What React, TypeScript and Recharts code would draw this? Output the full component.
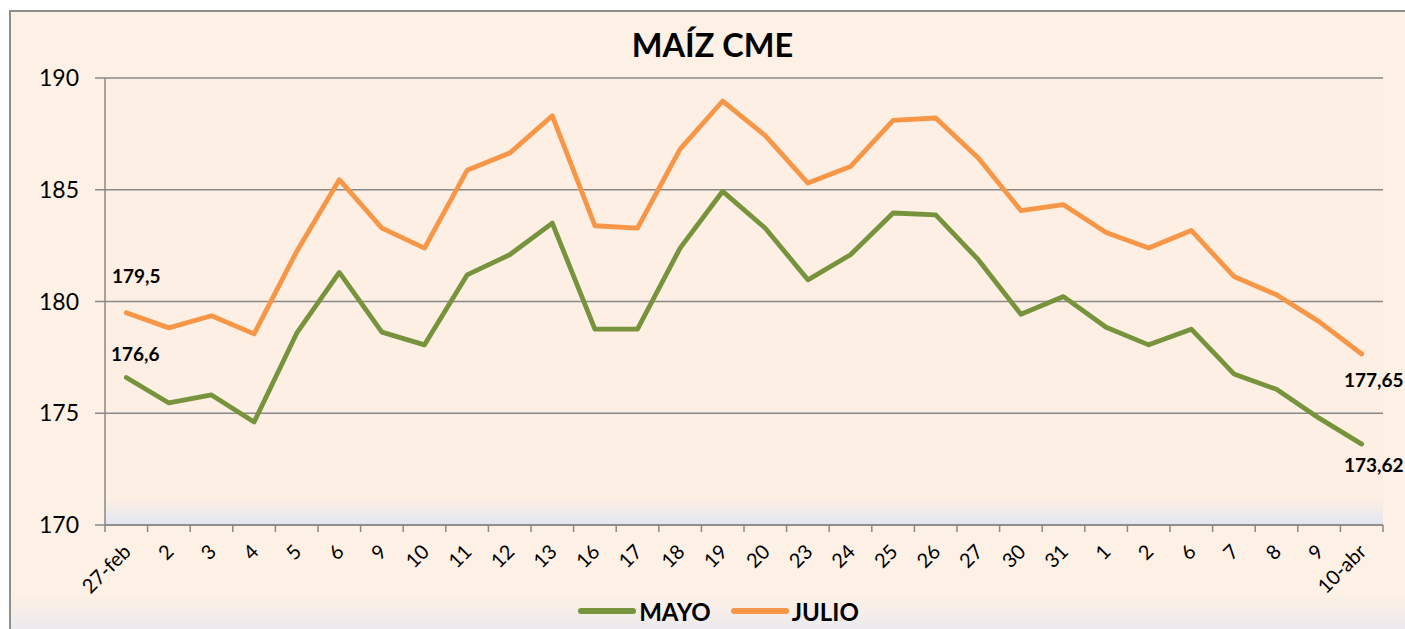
import React from 'react';
import { LineChart, Line, XAxis, YAxis, CartesianGrid, Legend, LabelList } from 'recharts';

const labels = ['27-feb','2','3','4','5','6','9','10','11','12','13','16','17','18','19','20','23','24','25','26','27','30','31','1','2','6','7','8','9','10-abr'];
const mayo = [176.6,175.46,175.82,174.61,178.58,181.30,178.63,178.06,181.19,182.09,183.51,178.76,178.76,182.39,184.93,183.28,180.97,182.09,183.96,183.88,181.87,179.43,180.22,178.85,178.06,178.76,176.76,176.07,174.78,173.62];
const julio = [179.5,178.82,179.36,178.55,182.24,185.45,183.28,182.39,185.87,186.64,188.31,183.39,183.28,186.82,188.97,187.42,185.30,186.04,188.10,188.21,186.42,184.07,184.33,183.09,182.39,183.18,181.12,180.30,179.10,177.65];
const yTicks = [170, 175, 180, 185, 190];
const seriesNames = ['MAYO', 'JULIO'];
const title = 'MAÍZ CME';

const data = labels.map((l, i) => ({ label: l, MAYO: mayo[i], JULIO: julio[i] }));

const W = 1405;
const H = 629;
const M = { top: 78, right: 22, left: 0, bottom: 3 };
const Y_W = 105;
const plotW = W - M.left - M.right - Y_W;
const halfBand = plotW / labels.length / 2;

const GREEN = '#77933C';
const ORANGE = '#F79646';
const GRID = '#898989';
const FONT = 'Lato, "Liberation Sans", sans-serif';

const fmt = (v: number) => String(v).replace('.', ',');

const XTick = (props: any) => {
  const { x, y, payload, index } = props;
  const last = index === labels.length - 1;
  const tx = x + 1;
  const ty = y + 23;
  return (
    <g>
      <line x1={x - halfBand} x2={x - halfBand} y1={y} y2={y + 7} stroke={GRID} strokeWidth={1.5} />
      {last && <line x1={x + halfBand} x2={x + halfBand} y1={y} y2={y + 7} stroke={GRID} strokeWidth={1.5} />}
      <text
        x={tx}
        y={ty}
        transform={`rotate(-45, ${tx}, ${ty})`}
        textAnchor="end"
        dy="0.35em"
        fontSize={20}
        fontFamily={FONT}
        fill="#000"
      >
        {payload.value}
      </text>
    </g>
  );
};

const makeLabel = (first: [number, number], last: [number, number]) => (props: any) => {
  const { x, y, value, index } = props;
  let off: [number, number] | null = null;
  if (index === 0) off = first;
  else if (index === labels.length - 1) off = last;
  if (!off) return null;
  return (
    <text
      x={x + off[0]}
      y={y + off[1]}
      dy="0.35em"
      textAnchor="middle"
      fontSize={19}
      fontWeight={700}
      fontFamily={FONT}
      fill="#000"
    >
      {fmt(value)}
    </text>
  );
};

const LegendContent = () => (
  <div style={{ height: 30, display: 'flex', alignItems: 'center', justifyContent: 'center', paddingLeft: 54, fontFamily: FONT }}>
    {seriesNames.map((n, i) => (
      <div key={n} style={{ display: 'flex', alignItems: 'center', marginLeft: i === 0 ? 0 : 20 }}>
        <svg width={58} height={10} style={{ display: 'block' }}>
          <line x1={3} x2={55} y1={5} y2={5} stroke={i === 0 ? GREEN : ORANGE} strokeWidth={6} strokeLinecap="round" />
        </svg>
        <span style={{ fontSize: 24, fontWeight: 700, color: '#000', marginLeft: 3 }}>{n}</span>
      </div>
    ))}
  </div>
);

export default function App() {
  return (
    <div style={{ position: 'absolute', left: 0, top: 0, width: W, height: H, overflow: 'hidden', background: '#fff' }}>
      <div
        style={{
          position: 'absolute',
          left: 9,
          top: 10,
          width: W,
          height: H,
          borderLeft: '2px solid #8E8E8E',
          borderTop: '2px solid #8E8E8E',
          background: 'linear-gradient(to bottom, #FDF0E4 0%, #FDF0E4 93%, #E7E9F1 100%)',
          boxSizing: 'border-box',
        }}
      />
      <div
        style={{
          position: 'absolute',
          left: 0,
          width: W,
          top: 27,
          textAlign: 'center',
          paddingLeft: 20,
          boxSizing: 'border-box',
          fontFamily: FONT,
          fontWeight: 700,
          fontSize: 32.5,
          lineHeight: '36px',
          color: '#000',
        }}
      >
        {title}
      </div>
      <div style={{ position: 'absolute', left: 0, top: 0 }}>
        <LineChart width={W} height={H} data={data} margin={M}>
          <defs>
            <linearGradient id="plotBg" x1="0" y1="0" x2="0" y2="1">
              <stop offset="0%" stopColor="#FDEFE3" />
              <stop offset="94%" stopColor="#FDEFE3" />
              <stop offset="100%" stopColor="#E2E6F2" />
            </linearGradient>
          </defs>
          <CartesianGrid vertical={false} stroke={GRID} strokeWidth={1.5} fill="url(#plotBg)" fillOpacity={1} />
          <XAxis
            dataKey="label"
            interval={0}
            tickLine={false}
            tickSize={0}
            tickMargin={0}
            height={71}
            padding={{ left: halfBand, right: halfBand }}
            axisLine={{ stroke: GRID, strokeWidth: 1.5 }}
            tick={<XTick />}
          />
          <YAxis
            domain={[170, 190]}
            ticks={yTicks}
            width={Y_W}
            tickSize={10}
            tickMargin={16}
            axisLine={{ stroke: GRID, strokeWidth: 1.5 }}
            tickLine={{ stroke: GRID, strokeWidth: 1.5 }}
            tick={{ fontSize: 23, fill: '#000', fontFamily: FONT }}
            allowDataOverflow
          />
          <Legend verticalAlign="bottom" content={<LegendContent />} />
          <Line
            dataKey="MAYO"
            stroke={GREEN}
            strokeWidth={4.8}
            dot={false}
            type="linear"
            strokeLinejoin="round"
            strokeLinecap="round"
            isAnimationActive={false}
          >
            <LabelList dataKey="MAYO" content={makeLabel([9, -23], [12, 21])} />
          </Line>
          <Line
            dataKey="JULIO"
            stroke={ORANGE}
            strokeWidth={4.8}
            dot={false}
            type="linear"
            strokeLinejoin="round"
            strokeLinecap="round"
            isAnimationActive={false}
          >
            <LabelList dataKey="JULIO" content={makeLabel([10, -36], [12, 26])} />
          </Line>
        </LineChart>
      </div>
    </div>
  );
}
